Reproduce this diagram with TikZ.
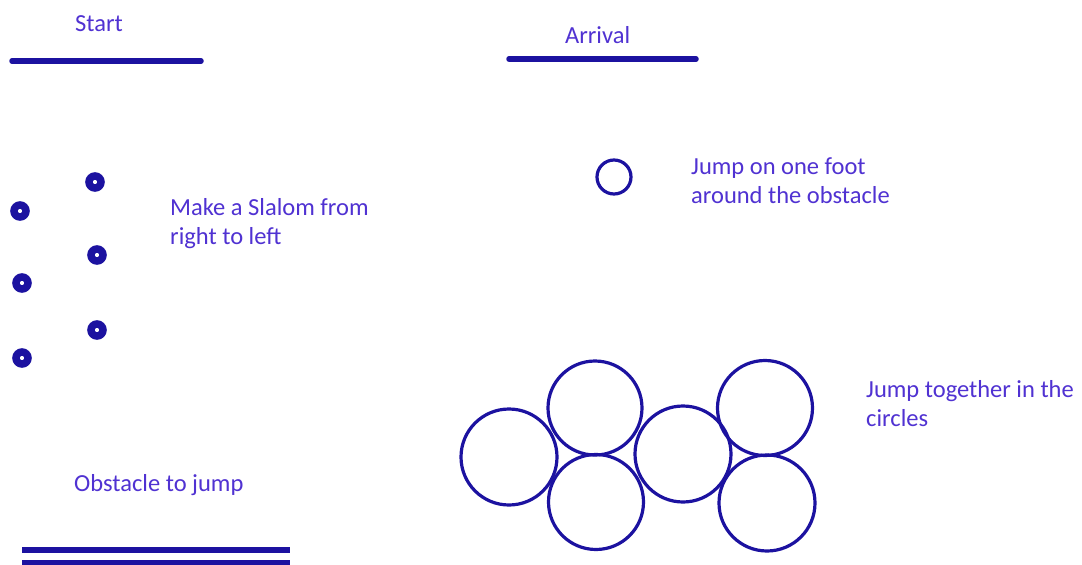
\documentclass[tikz,border=0pt]{standalone}
\usepackage{fontspec}
\setmainfont{Carlito}
\definecolor{ink}{RGB}{28,18,160}
\definecolor{txt}{RGB}{80,50,210}
\begin{document}
\begin{tikzpicture}[x=1pt,y=-1pt,
  lbl/.style={text=txt,inner sep=0pt,anchor=west,align=left,font=\fontsize{24.5}{29}\selectfont},
  bar/.style={draw=ink,line width=5.5pt,line cap=round},
  ring/.style={draw=ink,line width=7.5pt,circle,minimum size=12pt,inner sep=0pt},
  hoop/.style={draw=ink,line width=3.2pt,circle,inner sep=0pt}]
\useasboundingbox[fill=white] (0,0) rectangle (1082,565);
% Labels
\node[lbl] (start) at (75,24) {Start};
\node[lbl] (arrival) at (565,35) {Arrival};
\node[lbl] (slalom) at (170,223.5) {Make a Slalom from\\right to left};
\node[lbl] (foot) at (691,180.5) {Jump on one foot\\around the obstacle};
\node[lbl] (together) at (866,403.5) {Jump together in the\\circles};
\node[lbl] (obst) at (74,485) {Obstacle to jump};
% Start and arrival lines
\coordinate (s1) at (12,61); \coordinate (s2) at (201,61);
\draw[bar] (s1) -- (s2);
\coordinate (a1) at (509,59); \coordinate (a2) at (696,59);
\draw[bar] (a1) -- (a2);
% Obstacle lines
\coordinate (o1) at (22,550); \coordinate (o2) at (290,550);
\coordinate (o3) at (22,563); \coordinate (o4) at (290,563);
\draw[draw=ink,line width=5.5pt] (o1) -- (o2);
\draw[draw=ink,line width=5.5pt] (o3) -- (o4);
% Slalom rings
\node[ring] (r1) at (95,182) {};
\node[ring] (r2) at (20,211) {};
\node[ring] (r3) at (97,255) {};
\node[ring] (r4) at (22,283) {};
\node[ring] (r5) at (97,330) {};
\node[ring] (r6) at (22,358) {};
% Single obstacle
\node[hoop,minimum size=34pt] (one) at (614,177) {};
% Circles
\node[hoop,minimum size=96pt] (c1) at (509,457) {};
\node[hoop,minimum size=94pt] (c2) at (595,408) {};
\node[hoop,minimum size=95pt] (c3) at (596,502) {};
\node[hoop,minimum size=96pt] (c4) at (683,454) {};
\node[hoop,minimum size=95pt] (c5) at (765,408) {};
\node[hoop,minimum size=96pt] (c6) at (767,503) {};
\end{tikzpicture}
\end{document}
